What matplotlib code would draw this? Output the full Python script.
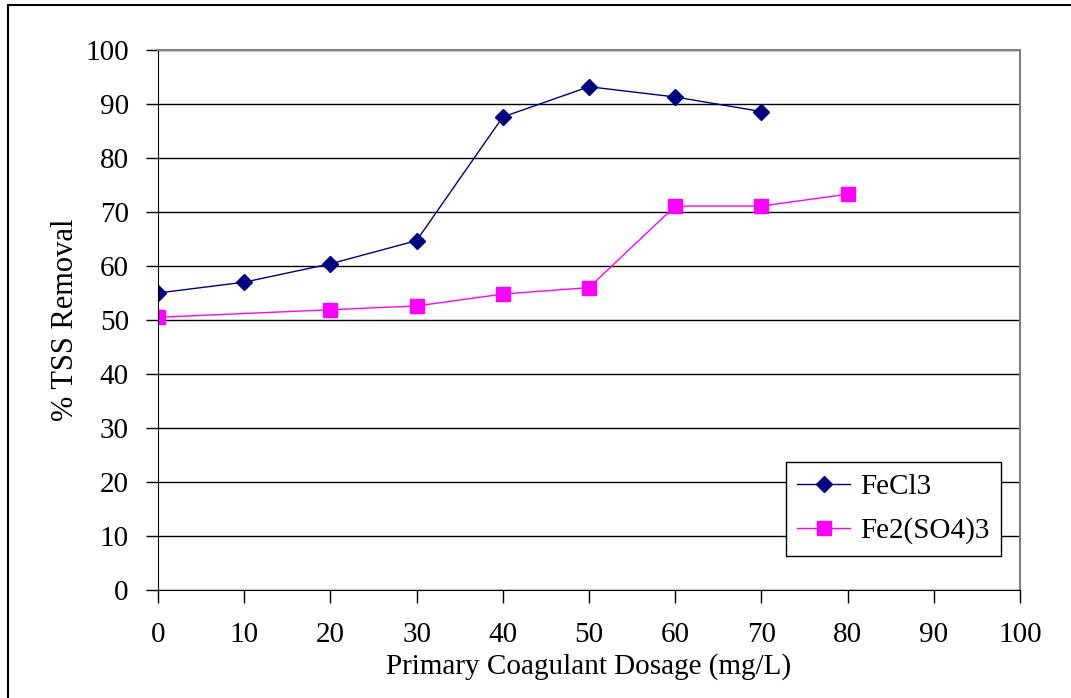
import matplotlib
matplotlib.use("Agg")
import matplotlib.pyplot as plt
from matplotlib.patches import Rectangle

plt.rcParams['font.family'] = ['Liberation Serif', 'DejaVu Serif']

dose_fecl3 = [0, 10, 20, 30, 40, 50, 60, 70]
tss_fecl3 = [55.0, 57.0, 60.4, 64.7, 87.6, 93.2, 91.3, 88.6]
dose_fe2so4 = [0, 20, 30, 40, 50, 60, 70, 80]
tss_fe2so4 = [50.5, 51.9, 52.6, 54.8, 56.0, 71.1, 71.1, 73.3]

fig = plt.figure(figsize=(10.71, 6.98), dpi=100)
ax = fig.add_axes([158/1071, 1-590/698, (1020-158)/1071, (590-50)/698])

# outer border of the chart area
fig.patches.append(Rectangle((8/1071, -0.1), 1.2, 1-5/698+0.1, transform=fig.transFigure,
                             fill=False, edgecolor='black', lw=1.5))

ax.plot(dose_fecl3, tss_fecl3, color='#000080', marker='D', ms=8, lw=1, label='FeCl3')
ax.plot(dose_fe2so4, tss_fe2so4, color='#FF00FF', marker='s', ms=10.5, lw=1, label='Fe2(SO4)3')

ax.set_xlim(0, 100)
ax.set_ylim(0, 100)
ax.set_xticks(range(0, 101, 10))
ax.set_yticks(range(0, 101, 10))
ax.yaxis.grid(True, color='black', lw=1)
ax.set_axisbelow(True)
ax.tick_params(axis='both', direction='out', length=9, width=1, labelsize=21, color='black')
ax.tick_params(axis='x', pad=14)
ax.tick_params(axis='y', pad=12)
ax.spines['top'].set_color('grey')
ax.spines['right'].set_color('grey')
ax.spines['top'].set_linewidth(1.5)
ax.spines['right'].set_linewidth(1.5)
ax.set_xlabel('Primary Coagulant Dosage (mg/L)', fontsize=21, labelpad=4)
ax.set_ylabel('% TSS Removal', fontsize=22, labelpad=4)

leg = ax.legend(loc='lower right', fontsize=21,
                frameon=True, fancybox=False, edgecolor='black', framealpha=1,
                handlelength=1.8, handletextpad=0.35, borderpad=0.4,
                labelspacing=0.6, borderaxespad=0)
leg.get_frame().set_linewidth(1)
leg.set_bbox_to_anchor((1-(1020-1001)/862, (590-556)/540), transform=ax.transAxes)

fig.savefig('out.png', dpi=100)
